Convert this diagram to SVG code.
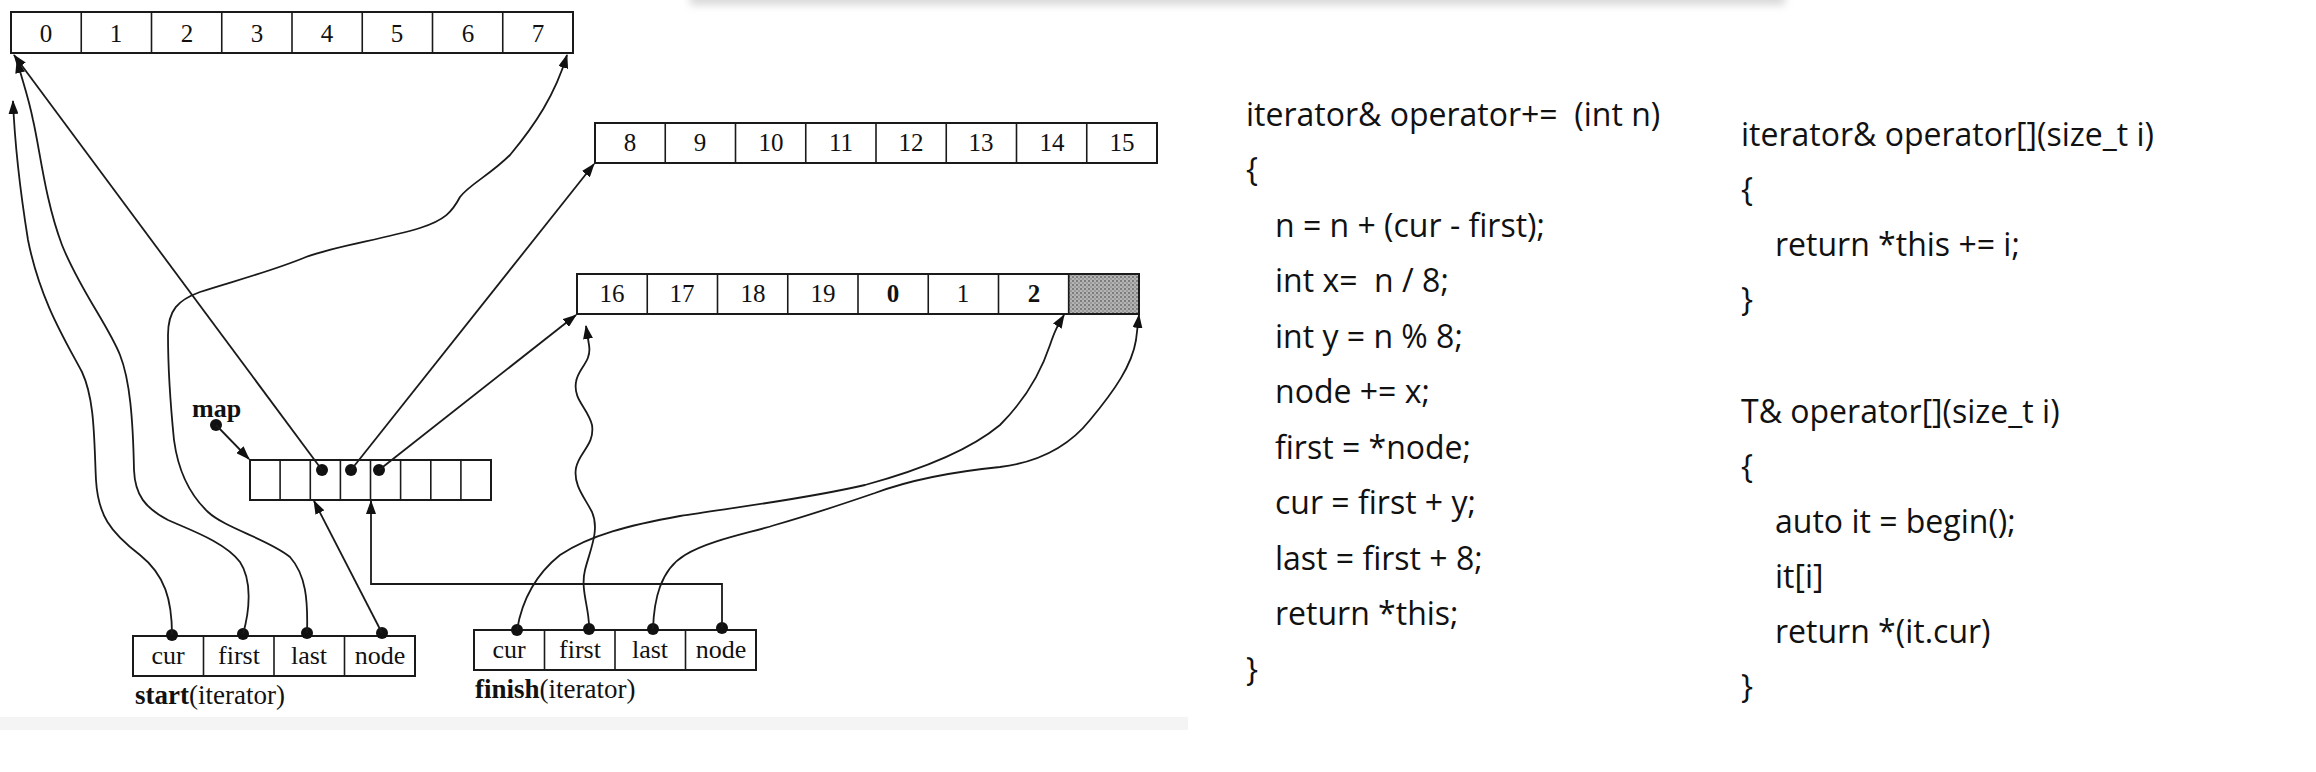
<svg xmlns="http://www.w3.org/2000/svg" width="2316" height="772" viewBox="0 0 2316 772">
<defs>
<style>
.box{fill:none;stroke:#1a1a1a;stroke-width:2}
.cell{stroke:#1a1a1a;stroke-width:1.6}
.num{font-family:"Liberation Serif",serif;font-size:25px;fill:#111;text-anchor:middle}
.lbl{font-family:"Liberation Serif",serif;font-size:26px;fill:#111;text-anchor:middle}
.cap{font-family:"Liberation Serif",serif;font-size:27px;fill:#111}
.b{font-weight:bold}
.con{fill:none;stroke:#1a1a1a;stroke-width:1.8}
.arr{marker-end:url(#ah)}
.dot{fill:#111}
.code{font-family:"Open Sans","Noto Sans","Liberation Sans",sans-serif;font-size:32px;fill:#111;white-space:pre}
</style>
<marker id="ah" viewBox="0 0 14 10" refX="13" refY="5" markerWidth="14" markerHeight="10" markerUnits="userSpaceOnUse" orient="auto">
<path d="M0,0 L14,5 L0,10 z" fill="#111"/>
</marker>
<pattern id="dots" width="4" height="4" patternUnits="userSpaceOnUse">
<rect width="4" height="4" fill="#b4b4b4"/>
<circle cx="1" cy="1" r="1" fill="#6a6a6a"/>
<circle cx="3" cy="3" r="0.8" fill="#7a7a7a"/>
</pattern>
<filter id="blur" x="-10%" y="-200%" width="120%" height="500%">
<feGaussianBlur stdDeviation="4"/>
</filter>
</defs>
<rect width="2316" height="772" fill="#ffffff"/>
<rect x="690" y="-10" width="1095" height="15" fill="#d8d8d8" filter="url(#blur)"/>
<rect x="0" y="717" width="1188" height="13" fill="#f4f4f4"/>

<g id="buffer0">
<rect class="box" x="11" y="12" width="562" height="41"/>
<g class="cell">
<line x1="81.25" y1="12" x2="81.25" y2="53"/><line x1="151.5" y1="12" x2="151.5" y2="53"/>
<line x1="221.75" y1="12" x2="221.75" y2="53"/><line x1="292" y1="12" x2="292" y2="53"/>
<line x1="362.25" y1="12" x2="362.25" y2="53"/><line x1="432.5" y1="12" x2="432.5" y2="53"/>
<line x1="502.75" y1="12" x2="502.75" y2="53"/>
</g>
<text class="num" x="46" y="42">0</text><text class="num" x="116" y="42">1</text>
<text class="num" x="187" y="42">2</text><text class="num" x="257" y="42">3</text>
<text class="num" x="327" y="42">4</text><text class="num" x="397" y="42">5</text>
<text class="num" x="468" y="42">6</text><text class="num" x="538" y="42">7</text>
</g>

<g id="buffer1">
<rect class="box" x="595" y="123" width="562" height="40"/>
<g class="cell">
<line x1="665.25" y1="123" x2="665.25" y2="163"/><line x1="735.5" y1="123" x2="735.5" y2="163"/>
<line x1="805.75" y1="123" x2="805.75" y2="163"/><line x1="876" y1="123" x2="876" y2="163"/>
<line x1="946.25" y1="123" x2="946.25" y2="163"/><line x1="1016.5" y1="123" x2="1016.5" y2="163"/>
<line x1="1086.75" y1="123" x2="1086.75" y2="163"/>
</g>
<text class="num" x="630" y="151">8</text><text class="num" x="700" y="151">9</text>
<text class="num" x="771" y="151">10</text><text class="num" x="841" y="151">11</text>
<text class="num" x="911" y="151">12</text><text class="num" x="981" y="151">13</text>
<text class="num" x="1052" y="151">14</text><text class="num" x="1122" y="151">15</text>
</g>

<g id="buffer2">
<rect x="1067.75" y="274" width="71.25" height="40" fill="url(#dots)"/>
<rect class="box" x="577" y="274" width="562" height="40"/>
<g class="cell">
<line x1="647.25" y1="274" x2="647.25" y2="314"/><line x1="717.5" y1="274" x2="717.5" y2="314"/>
<line x1="787.75" y1="274" x2="787.75" y2="314"/><line x1="858" y1="274" x2="858" y2="314"/>
<line x1="928.25" y1="274" x2="928.25" y2="314"/><line x1="998.5" y1="274" x2="998.5" y2="314"/>
<line x1="1068.75" y1="274" x2="1068.75" y2="314"/>
</g>
<text class="num" x="612" y="302">16</text><text class="num" x="682" y="302">17</text>
<text class="num" x="753" y="302">18</text><text class="num" x="823" y="302">19</text>
<text class="num b" x="893" y="302">0</text><text class="num" x="963" y="302">1</text>
<text class="num b" x="1034" y="302">2</text>
</g>

<g id="map">
<text class="cap b" x="192" y="417" style="font-size:26px">map</text>
<rect class="box" x="250" y="460" width="241" height="40"/>
<g class="cell">
<line x1="280.1" y1="460" x2="280.1" y2="500"/><line x1="310.3" y1="460" x2="310.3" y2="500"/>
<line x1="340.4" y1="460" x2="340.4" y2="500"/><line x1="370.5" y1="460" x2="370.5" y2="500"/>
<line x1="400.6" y1="460" x2="400.6" y2="500"/><line x1="430.8" y1="460" x2="430.8" y2="500"/>
<line x1="460.9" y1="460" x2="460.9" y2="500"/>
</g>
<circle class="dot" cx="216" cy="425" r="6"/>
<circle class="dot" cx="322" cy="470" r="6"/>
<circle class="dot" cx="351" cy="470" r="6"/>
<circle class="dot" cx="379" cy="470" r="6"/>
</g>

<g id="start">
<rect class="box" x="133" y="636" width="282" height="40"/>
<g class="cell">
<line x1="203.5" y1="636" x2="203.5" y2="676"/><line x1="274" y1="636" x2="274" y2="676"/>
<line x1="344.5" y1="636" x2="344.5" y2="676"/>
</g>
<text class="lbl" x="168" y="664">cur</text><text class="lbl" x="239" y="664">first</text>
<text class="lbl" x="309" y="664">last</text><text class="lbl" x="380" y="664">node</text>
<circle class="dot" cx="172" cy="635" r="6"/><circle class="dot" cx="243" cy="634" r="6"/>
<circle class="dot" cx="307" cy="633" r="6"/><circle class="dot" cx="382" cy="633" r="6"/>
<text class="cap" x="135" y="704"><tspan class="b">start</tspan>(iterator)</text>
</g>

<g id="finish">
<rect class="box" x="474" y="630" width="282" height="40"/>
<g class="cell">
<line x1="544.5" y1="630" x2="544.5" y2="670"/><line x1="615" y1="630" x2="615" y2="670"/>
<line x1="685.5" y1="630" x2="685.5" y2="670"/>
</g>
<text class="lbl" x="509" y="658">cur</text><text class="lbl" x="580" y="658">first</text>
<text class="lbl" x="650" y="658">last</text><text class="lbl" x="721" y="658">node</text>
<circle class="dot" cx="517" cy="630" r="6"/><circle class="dot" cx="589" cy="629" r="6"/>
<circle class="dot" cx="653" cy="629" r="6"/><circle class="dot" cx="722" cy="628" r="6"/>
<text class="cap" x="475" y="698"><tspan class="b">finish</tspan>(iterator)</text>
</g>

<g id="connectors">
<path class="con arr" d="M216,425 L249,459"/>
<path class="con arr" d="M322,470 L14,55"/>
<path class="con arr" d="M351,470 L594,164"/>
<path class="con arr" d="M379,470 L576,315"/>
<path class="con arr" d="M382,633 L314,501"/>
<path class="con arr" d="M722,628 V584 H371 V501"/>
<path class="con arr" d="M172,635 C172,600 165,575 140,555 C110,532 98,515 96,480 C94,440 95,400 82,372 C65,340 40,300 28,240 C20,190 15,150 13,101"/>
<path class="con arr" d="M243,634 C250,610 252,580 240,562 C225,542 190,530 168,520 C145,508 135,495 134,470 C133,420 130,380 120,355 C108,325 80,290 62,245 C45,200 40,150 33,120 C28,95 22,80 17,60"/>
<path class="con arr" d="M307,633 C308,600 306,575 290,557 C270,540 225,528 208,512 C190,495 178,470 174,440 C170,400 168,360 168,335 C168,310 178,300 200,292 C230,282 270,272 306,257 C340,245 380,240 420,228 C445,220 452,212 460,197 C470,184 490,175 510,155 C535,125 555,95 567,55"/>
<path class="con arr" d="M589,629 C590,610 580,590 585,570 C590,550 600,530 592,512 C585,498 573,485 576,468 C579,452 595,445 592,425 C588,408 573,400 576,382 C578,368 592,362 589,345 L586,326"/>
<path class="con arr" d="M517,630 C522,600 535,575 560,555 C590,535 630,525 680,516 C730,508 800,500 865,485 C920,470 970,450 1000,425 C1025,400 1040,375 1050,345 C1055,330 1058,325 1064,315"/>
<path class="con arr" d="M653,629 C654,600 660,570 685,555 C710,540 750,533 775,525 C810,515 840,505 875,493 C910,480 950,472 1000,467 C1040,462 1070,445 1090,420 C1115,390 1132,365 1136,340 L1139,315"/>
</g>

<g id="code-plus">
<text class="code" x="1246" y="126">iterator&amp; operator+=  (int n)</text>
<text class="code" x="1246" y="181">{</text>
<text class="code" x="1275" y="237">n = n + (cur - first);</text>
<text class="code" x="1275" y="292">int x=  n / 8;</text>
<text class="code" x="1275" y="348">int y = n % 8;</text>
<text class="code" x="1275" y="403">node += x;</text>
<text class="code" x="1275" y="459">first = *node;</text>
<text class="code" x="1275" y="514">cur = first + y;</text>
<text class="code" x="1275" y="570">last = first + 8;</text>
<text class="code" x="1275" y="625">return *this;</text>
<text class="code" x="1246" y="681">}</text>
</g>

<g id="code-index">
<text class="code" x="1741" y="146">iterator&amp; operator[](size_t i)</text>
<text class="code" x="1741" y="201">{</text>
<text class="code" x="1775" y="256">return *this += i;</text>
<text class="code" x="1741" y="311">}</text>
<text class="code" x="1741" y="423">T&amp; operator[](size_t i)</text>
<text class="code" x="1741" y="478">{</text>
<text class="code" x="1775" y="533">auto it = begin();</text>
<text class="code" x="1775" y="588">it[i]</text>
<text class="code" x="1775" y="643">return *(it.cur)</text>
<text class="code" x="1741" y="698">}</text>
</g>
</svg>
